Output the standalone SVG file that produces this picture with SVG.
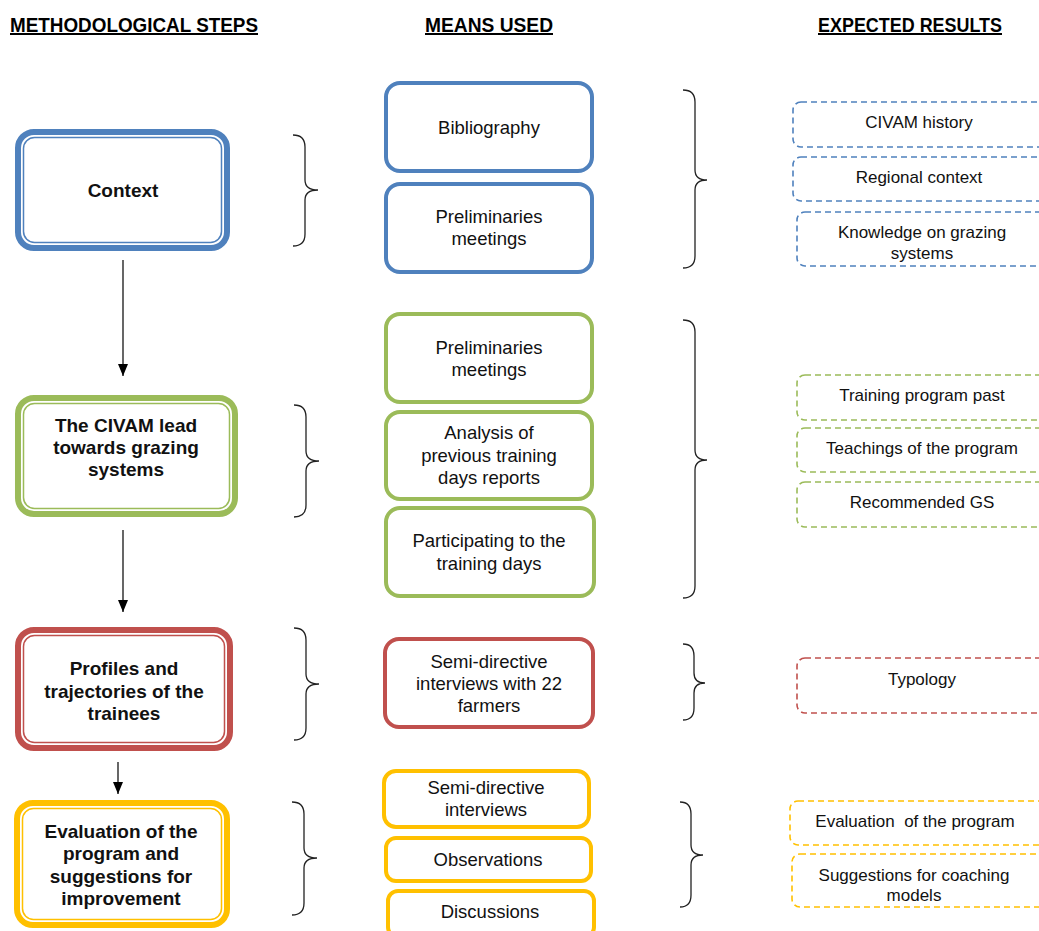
<svg xmlns="http://www.w3.org/2000/svg" width="1039" height="931" viewBox="0 0 1039 931">
<defs>
<style>
.hdr{font-family:"Liberation Sans",Arial,sans-serif;font-weight:bold;font-size:20px;fill:#000;text-decoration:underline}
.st{font-family:"Liberation Sans",Arial,sans-serif;font-weight:bold;font-size:19px;fill:#111;text-anchor:middle}
.mn{font-family:"Liberation Sans",Arial,sans-serif;font-size:18.5px;fill:#111;text-anchor:middle}
.ex{font-family:"Liberation Sans",Arial,sans-serif;font-size:17px;fill:#111;text-anchor:middle;white-space:pre}
.o{fill:#fff;stroke-width:6}
.i{fill:none;stroke-width:1.5}
.m{fill:#fff;stroke-width:4}
.d{fill:none;stroke-width:1.6;stroke-dasharray:6 4}
.br{fill:none;stroke:#222;stroke-width:1.3}
.blue{stroke:#4F81BD}.green{stroke:#9BBB59}.red{stroke:#C0504D}.yellow{stroke:#FFC000}
.ar{stroke:#000;stroke-width:1.2;fill:none}
</style>
<marker id="ah" viewBox="0 0 12 10" refX="12" refY="5" markerWidth="12" markerHeight="10" markerUnits="userSpaceOnUse" orient="auto">
<path d="M0,0 L12,5 L0,10 Z" fill="#000"/>
</marker>
</defs>

<g id="headers">
<text class="hdr" x="10" y="32" textLength="248" lengthAdjust="spacingAndGlyphs">METHODOLOGICAL STEPS</text>
<text class="hdr" x="425" y="32" textLength="128" lengthAdjust="spacingAndGlyphs">MEANS USED</text>
<text class="hdr" x="818" y="32" textLength="184" lengthAdjust="spacingAndGlyphs">EXPECTED RESULTS</text>
</g>

<g id="connectors">
<line class="ar" x1="123" y1="260" x2="123" y2="376" marker-end="url(#ah)"/>
<line class="ar" x1="123" y1="530" x2="123" y2="612" marker-end="url(#ah)"/>
<line class="ar" x1="118" y1="762" x2="118" y2="794" marker-end="url(#ah)"/>
<path class="br" d="M293,135 Q305,135 305,147 L305,180 Q305,190 318,190 Q305,190 305,200 L305,234 Q305,246 293,246"/>
<path class="br" d="M294,405 Q306,405 306,417 L306,451 Q306,461 319,461 Q306,461 306,471 L306,505 Q306,517 294,517"/>
<path class="br" d="M294,628 Q306,628 306,640 L306,674 Q306,684 319,684 Q306,684 306,694 L306,728 Q306,740 294,740"/>
<path class="br" d="M292,802 Q304,802 304,814 L304,848 Q304,858 317,858 Q304,858 304,868 L304,903 Q304,915 292,915"/>
<path class="br" d="M683,90 Q695,90 695,102 L695,170 Q695,180 707,180 Q695,180 695,190 L695,256 Q695,268 683,268"/>
<path class="br" d="M683,320 Q695,320 695,332 L695,450 Q695,460 707,460 Q695,460 695,470 L695,586 Q695,598 683,598"/>
<path class="br" d="M683,644 Q694,644 694,656 L694,673 Q694,683 705,683 Q694,683 694,693 L694,708 Q694,720 683,720"/>
<path class="br" d="M680,802 Q691,802 691,814 L691,845 Q691,855 703,855 Q691,855 691,865 L691,895 Q691,907 680,907"/>
</g>

<g id="step-context">
<rect class="o blue" x="18" y="132" width="209" height="116" rx="16"/>
<rect class="i blue" x="23.5" y="137.5" width="198" height="105" rx="11"/>
<text class="st" x="123" y="197">Context</text>
</g>
<g id="step-civam">
<rect class="o green" x="18" y="398" width="217" height="116" rx="16"/>
<rect class="i green" x="23.5" y="403.5" width="206" height="105" rx="11"/>
<text class="st" x="126" y="432">The CIVAM lead</text>
<text class="st" x="126" y="454">towards grazing</text>
<text class="st" x="126" y="476">systems</text>
</g>
<g id="step-profiles">
<rect class="o red" x="18" y="630" width="212" height="118" rx="16"/>
<rect class="i red" x="23.5" y="635.5" width="201" height="107" rx="11"/>
<text class="st" x="124" y="675">Profiles and</text>
<text class="st" x="124" y="698">trajectories of the</text>
<text class="st" x="124" y="720">trainees</text>
</g>
<g id="step-evaluation">
<rect class="o yellow" x="17" y="803" width="210" height="122" rx="16"/>
<rect class="i yellow" x="22.5" y="808.5" width="199" height="111" rx="11"/>
<text class="st" x="121" y="838">Evaluation of the</text>
<text class="st" x="121" y="860">program and</text>
<text class="st" x="121" y="883">suggestions for</text>
<text class="st" x="121" y="905">improvement</text>
</g>

<g id="mean-bibliography">
<rect class="m blue" x="386" y="83" width="206" height="88" rx="14"/>
<text class="mn" x="489" y="134">Bibliography</text>
</g>
<g id="mean-prelim-1">
<rect class="m blue" x="386" y="184" width="206" height="88" rx="14"/>
<text class="mn" x="489" y="223">Preliminaries</text>
<text class="mn" x="489" y="245">meetings</text>
</g>
<g id="mean-prelim-2">
<rect class="m green" x="386" y="314" width="206" height="88" rx="14"/>
<text class="mn" x="489" y="354">Preliminaries</text>
<text class="mn" x="489" y="376">meetings</text>
</g>
<g id="mean-analysis">
<rect class="m green" x="386" y="412" width="206" height="87" rx="14"/>
<text class="mn" x="489" y="439">Analysis of</text>
<text class="mn" x="489" y="462">previous training</text>
<text class="mn" x="489" y="484">days reports</text>
</g>
<g id="mean-participating">
<rect class="m green" x="386" y="508" width="208" height="88" rx="14"/>
<text class="mn" x="489" y="547">Participating to the</text>
<text class="mn" x="489" y="570">training days</text>
</g>
<g id="mean-semi-1">
<rect class="m red" x="385" y="639" width="208" height="88" rx="14"/>
<text class="mn" x="489" y="668">Semi-directive</text>
<text class="mn" x="489" y="690">interviews with 22</text>
<text class="mn" x="489" y="712">farmers</text>
</g>
<g id="mean-semi-2">
<rect class="m yellow" x="384" y="771" width="205" height="56" rx="12"/>
<text class="mn" x="486" y="794">Semi-directive</text>
<text class="mn" x="486" y="816">interviews</text>
</g>
<g id="mean-observations">
<rect class="m yellow" x="386" y="838" width="205" height="43" rx="10"/>
<text class="mn" x="488" y="866">Observations</text>
</g>
<g id="mean-discussions">
<rect class="m yellow" x="388" y="891" width="206" height="46" rx="10"/>
<text class="mn" x="490" y="918">Discussions</text>
</g>

<g id="res-history">
<rect class="d blue" x="793" y="102" width="270" height="45" rx="8"/>
<text class="ex" x="919" y="128">CIVAM history</text>
</g>
<g id="res-regional">
<rect class="d blue" x="793" y="157" width="270" height="44" rx="8"/>
<text class="ex" x="919" y="183">Regional context</text>
</g>
<g id="res-knowledge">
<rect class="d blue" x="797" y="212" width="270" height="54" rx="8"/>
<text class="ex" x="922" y="238">Knowledge on grazing</text>
<text class="ex" x="922" y="259">systems</text>
</g>
<g id="res-training">
<rect class="d green" x="797" y="375" width="270" height="45" rx="8"/>
<text class="ex" x="922" y="401">Training program past</text>
</g>
<g id="res-teachings">
<rect class="d green" x="797" y="428" width="270" height="44" rx="8"/>
<text class="ex" x="922" y="454">Teachings of the program</text>
</g>
<g id="res-recommended">
<rect class="d green" x="797" y="482" width="270" height="45" rx="8"/>
<text class="ex" x="922" y="508">Recommended GS</text>
</g>
<g id="res-typology">
<rect class="d red" x="797" y="658" width="270" height="55" rx="8"/>
<text class="ex" x="922" y="685">Typology</text>
</g>
<g id="res-evaluation">
<rect class="d yellow" x="790" y="801" width="270" height="44" rx="8"/>
<text class="ex" x="915" y="827">Evaluation  of the program</text>
</g>
<g id="res-suggestions">
<rect class="d yellow" x="792" y="854" width="270" height="53" rx="8"/>
<text class="ex" x="914" y="881">Suggestions for coaching</text>
<text class="ex" x="914" y="901">models</text>
</g>
</svg>
